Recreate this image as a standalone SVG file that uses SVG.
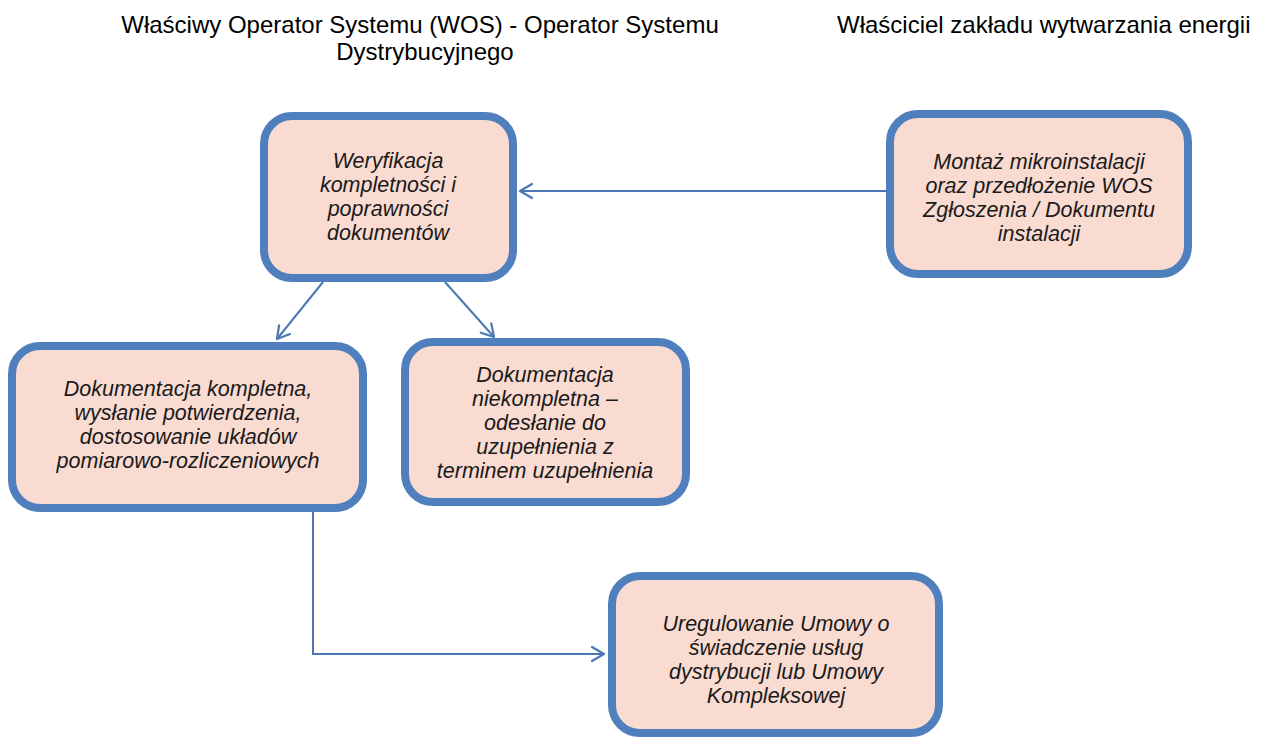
<svg xmlns="http://www.w3.org/2000/svg" width="1261" height="738" viewBox="0 0 1261 738">
  <defs>
    <marker id="arr" markerUnits="userSpaceOnUse" markerWidth="16" markerHeight="18" refX="14" refY="9" orient="auto">
      <path d="M2,2 L14,9 L2,16" fill="none" stroke="#4a78b3" stroke-width="2.2" stroke-linecap="round" stroke-linejoin="round"/>
    </marker>
  </defs>
  <style>
    .box { fill: #f9dbd1; stroke: #4f7fbd; stroke-width: 8; }
    .t { font-family: "Liberation Sans", Arial, sans-serif; font-size: 21.5px; font-style: italic; fill: #1a1a1a; text-anchor: middle; }
    .h { font-family: "Liberation Sans", Arial, sans-serif; font-size: 24px; fill: #000; }
    .c { fill: none; stroke: #4a78b3; stroke-width: 2; }
  </style>
  <rect width="1261" height="738" fill="#ffffff"/>

  <g id="headers">
    <text class="h" x="420" y="33" text-anchor="middle">Właściwy Operator Systemu (WOS) - Operator Systemu</text>
    <text class="h" x="425" y="60" text-anchor="middle">Dystrybucyjnego</text>
    <text class="h" x="837" y="33">Właściciel zakładu wytwarzania energii</text>
  </g>

  <g id="connectors">
    <line class="c" x1="886" y1="191" x2="520" y2="191" marker-end="url(#arr)"/>
    <line class="c" x1="323" y1="282" x2="277" y2="339" marker-end="url(#arr)"/>
    <line class="c" x1="445" y1="282" x2="494" y2="337" marker-end="url(#arr)"/>
    <path class="c" d="M313,512 V654 H604" marker-end="url(#arr)"/>
  </g>

  <g id="node-weryfikacja">
    <rect class="box" x="264" y="116" width="249" height="162" rx="28"/>
    <text class="t" x="388" y="168">Weryfikacja</text>
    <text class="t" x="388" y="192">kompletności i</text>
    <text class="t" x="388" y="216">poprawności</text>
    <text class="t" x="388" y="240">dokumentów</text>
  </g>

  <g id="node-montaz">
    <rect class="box" x="890" y="114" width="298" height="160" rx="28"/>
    <text class="t" x="1039" y="169">Montaż mikroinstalacji</text>
    <text class="t" x="1039" y="193">oraz przedłożenie WOS</text>
    <text class="t" x="1039" y="217">Zgłoszenia / Dokumentu</text>
    <text class="t" x="1039" y="241">instalacji</text>
  </g>

  <g id="node-kompletna">
    <rect class="box" x="12" y="346" width="351" height="162" rx="28"/>
    <text class="t" x="188" y="396">Dokumentacja kompletna,</text>
    <text class="t" x="188" y="420">wysłanie potwierdzenia,</text>
    <text class="t" x="188" y="444">dostosowanie układów</text>
    <text class="t" x="188" y="468">pomiarowo-rozliczeniowych</text>
  </g>

  <g id="node-niekompletna">
    <rect class="box" x="405" y="342" width="281" height="160" rx="28"/>
    <text class="t" x="545" y="382">Dokumentacja</text>
    <text class="t" x="545" y="406">niekompletna –</text>
    <text class="t" x="545" y="430">odesłanie do</text>
    <text class="t" x="545" y="454">uzupełnienia z</text>
    <text class="t" x="545" y="478">terminem uzupełnienia</text>
  </g>

  <g id="node-uregulowanie">
    <rect class="box" x="612" y="576" width="327" height="157" rx="28"/>
    <text class="t" x="776" y="631">Uregulowanie Umowy o</text>
    <text class="t" x="776" y="655">świadczenie usług</text>
    <text class="t" x="776" y="679">dystrybucji lub Umowy</text>
    <text class="t" x="776" y="703">Kompleksowej</text>
  </g>
</svg>
